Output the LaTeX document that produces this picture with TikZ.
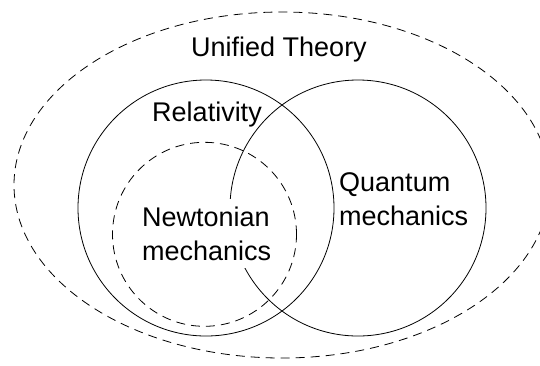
\documentclass[tikz,border=0pt]{standalone}
\usepackage{fontspec}
\setmainfont{Liberation Sans}
\usetikzlibrary{shapes.geometric}
\tikzset{
  setline/.style={draw=black, line width=0.8pt},
  dashline/.style={setline, dash pattern=on 9pt off 6pt},
  label/.style={inner sep=0pt, font=\fontsize{27}{33.3}\selectfont, align=left},
}
\begin{document}
\begin{tikzpicture}[x=1pt,y=-1pt]
\clip (0,0) rectangle (540,365);
\fill[white] (0,0) rectangle (540,365);
% outer unified theory ellipse
\node[ellipse, dashline, minimum width=536pt, minimum height=346pt, inner sep=0pt] (uni) at (282,185) {};
% relativity and quantum circles
\node[circle, setline, minimum size=256pt, inner sep=0pt] (rel) at (206,208) {};
\node[circle, setline, minimum size=256pt, inner sep=0pt] (qm) at (358,208) {};
% newtonian dashed circle
\node[circle, dashline, minimum size=184pt, inner sep=0pt] (newt) at (204.5,234.3) {};
% labels (base anchor of a multi-line node = baseline of its last line)
\node[label, anchor=base] (unilabel) at (279,56.7) {Unified Theory};
\node[label, anchor=base] (rellabel) at (207,121.7) {Relativity};
\node[label, anchor=base west] (qmlabel) at (339,225) {Quantum\\mechanics};
\node[label, anchor=base west, fill=white, inner xsep=2pt, inner ysep=8pt] (newtlabel) at (140,260) {Newtonian\\mechanics};
\end{tikzpicture}
\end{document}
